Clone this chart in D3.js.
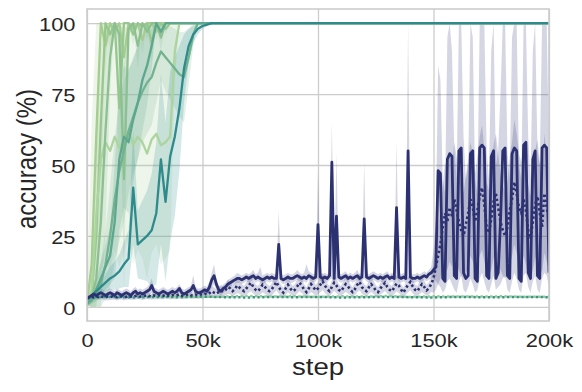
<!DOCTYPE html>
<html><head><meta charset="utf-8">
<script src="https://cdn.jsdelivr.net/npm/d3@7"></script>
<style>body{margin:0;background:#fff}svg{display:block}</style>
</head><body><svg id="chart" width="582" height="392"></svg>
<script>
// ---------- ticks ----------
const xTickValues=[0,50,100,150,200];           // step in thousands
const xTickLabels=["0","50k","100k","150k","200k"];
const yTickValues=[0,25,50,75,100];

// ---------- green (fast-learning) runs, step in thousands ----------
const greenSteps=[0,2,4,6,8,10,12,14,16,18,20,22,24,26,28,30,32,34,36,38,40,42,44,46,48,50,52,54,56,58,60,200];
const g1Mean=[1,15,60,100,92,100,97,100,88,100,98,100,94,100,100,97,100,100,100,100,100,100,100,100,100,100,100,100,100,100,100,100];
const g1Ci  =[0.5,50,40,2,8,0,3,0,10,0,2,0,5,0,0,3,0,0,0,0,0,0,0,0,0,0,0,0,0,0,0,0];
const g2Mean=[1,4,25,65,100,96,100,70,100,100,96,100,99,100,93,100,100,98,100,100,100,100,100,100,100,100,100,100,100,100,100,100];
const g2Ci  =[0.5,8,40,35,2,6,0,30,0,0,4,0,1,0,7,0,0,2,0,0,0,0,0,0,0,0,0,0,0,0,0,0];
const g3Mean=[1,5,32,52,58,55,60,56,59,62,57,60,58,54,59,61,57,58,60,90,100,100,100,100,100,100,100,100,100,100,100,100];
const g3Ci  =[0.5,10,35,40,40,42,40,42,40,38,42,40,41,44,40,39,42,41,40,10,0,0,0,0,0,0,0,0,0,0,0,0];
const g4Mean=[1,3,10,30,62,88,100,96,45,98,100,92,100,97,100,100,95,100,100,100,100,100,100,100,100,100,100,100,100,100,100,100];
const g4Ci  =[0.5,3,15,30,35,12,0,5,40,3,0,8,0,3,0,0,5,0,0,0,0,0,0,0,0,0,0,0,0,0,0,0];
const g5Mean=[1,2,4,8,15,25,38,48,55,62,67,72,76,79,81,86,90,88,86,84,82,81,88,96,100,100,100,100,100,100,100,100];
const g5Ci  =[0.5,2,4,8,12,18,22,25,25,22,20,20,18,18,17,14,10,12,13,14,15,16,10,4,0,0,0,0,0,0,0,0];
const g6Mean=[1,3,6,10,14,18,30,52,60,58,66,72,80,85,92,100,97,100,100,100,100,100,100,100,100,100,100,100,100,100,100,100];
const g6Ci  =[0.5,2,4,6,8,10,20,25,25,25,22,20,18,14,8,0,3,0,0,0,0,0,0,0,0,0,0,0,0,0,0,0];
const g7Mean=[2.5,4,5.5,7,8.5,10,11,12.5,15,17,42,22,23.5,25,27,33,52,37,53,60,70,84,92,96,98,99,99.5,100,100,100,100,100];
const g7Ci  =[0.5,1,1.5,2,3,4,5,6,8,10,20,12,14,16,20,25,30,28,30,28,22,12,6,3,2,1,0.5,0,0,0,0,0];

// ---------- flat dotted runs at the bottom ----------
const dotSteps=[0,10,20,30,40,50,60,70,80,90,100,110,120,130,140,150,160,170,180,190,200];
const lightDot=[3.7,3.5,3.8,3.6,3.7,3.5,3.6,3.8,3.6,3.7,3.5,3.7,3.6,3.8,3.5,3.7,3.6,3.6,3.7,3.5,3.6];
const tealDot =[3.4,3.5,3.3,3.5,3.4,3.6,3.4,3.3,3.5,3.4,3.5,3.3,3.4,3.5,3.4,3.3,3.5,3.4,3.4,3.5,3.4];

// ---------- navy runs, one value per 1k steps (0..200k) ----------
const navySteps=d3.range(0,201);
const navyMean=[
3,3.5,4,4.5,4,4.5,5,4.5,4,4.5,
5,4.5,4,5,4.5,4,4.5,5,4.5,4,
5,5.5,4.5,5,4.5,5,5.5,6,7.5,5.5,
5,4.5,5,5.5,5,4.5,5,5.5,5,5.5,
6.5,5,4.5,5,5.5,6,7.5,5.5,5,5,
5.5,6,5.5,7,9.5,11,8,6,5.5,6.5,
7,8,8.5,9,9.5,10,10,9.5,10,10.5,
10,10.5,11,10,10.5,10,9.5,10,10.5,10,
10.5,10,10,22,10,9.5,10,10.5,10,10,
10.5,11,10.5,10,10.5,10,11,10.5,10,10.5,
29,10.5,10,10.5,10,11,51,10,32,10.5,
10,10.5,11,10,10.5,10,10.5,11,10,10.5,
31,10.5,10,10.5,11,10.5,10,10.5,10,10.5,
11,10,10.5,10,35,10.5,10,10.5,10,55,
10.5,10,10,10.5,10,10.5,11,10.5,11.5,12,
13,14,48,47,10,9,52,54,53,11,
10,55,56,12,10,11,54,55,10,9,
56,57,56,11,10,53,55,10,12,30,
55,56,11,10,54,56,55,10,9,57,
58,12,10,52,55,11,10,56,57,56,
12];
const navyLo=[
2,2.5,3,3,3,3,3.5,3,3,3,
3.5,3,3,3.5,3,3,3,3.5,3,3,
3.5,4,3,3.5,3,3.5,4,4.5,5,4,
3.5,3,3.5,4,3.5,3,3.5,4,3.5,4,
5,3.5,3,3.5,4,4.5,5.5,4,3.5,3.5,
4,4.5,4,5,7,8,6,4.5,4,5,
5.5,6.5,7,7.5,8,8.5,8.5,8,8.5,9,
8.5,9,9.5,8.5,9,8.5,8,8.5,9,8.5,
9,8.5,8.5,10,8.5,8,8.5,9,8.5,8.5,
9,9.5,9,8.5,9,8.5,9.5,9,8.5,9,
10,9,8.5,9,8.5,9.5,10,8.5,10,9,
8.5,9,9.5,8.5,9,8.5,9,9.5,8.5,9,
10,9,8.5,9,9.5,9,8.5,9,8.5,9,
9.5,8.5,9,8.5,10,9,8.5,9,8.5,10,
9,8.5,8.5,9,8.5,9,9.5,9,9.5,10,
10,9,8,7,5,6,9,10,8,6,
5,9,11,6,5,7,10,8,5,6,
10,12,9,6,5,8,11,6,7,8,
10,11,6,5,9,12,10,6,5,11,
12,7,5,9,11,6,5,10,12,11,
7];
const navyHi=[
4.5,5,5.5,6,5.5,6,6.5,6,5.5,6,
6.5,6,5.5,6.5,6,5.5,6,6.5,6,5.5,
6.5,7,6,6.5,6,6.5,7,8,10,7,
6.5,6,6.5,7,6.5,6,6.5,7,6.5,7,
8,6.5,6,6.5,7,7.5,11,7,6.5,6.5,
7,7.5,7,9,12,15,10,7.5,7,8,
8.5,9.5,10,10.5,11,12,11.5,11,11.5,12,
11.5,12,13,11.5,12,14,11,11.5,12,11.5,
12,11.5,11.5,34,11.5,11,11.5,12,11.5,11.5,
12,13,12,11.5,12,15,12.5,12,11.5,12,
48,12,11.5,12,11.5,12.5,65,11.5,54,12,
11.5,12,12.5,11.5,12,11.5,12,13,11.5,12,
51,12,11.5,12,12.5,12,11.5,12,11.5,12,
12.5,11.5,12,11.5,58,12,11.5,12,11.5,100,
12,11.5,11.5,12,11.5,12,12.5,12,13,14,
20,30,85,80,45,40,95,100,90,55,
45,100,100,60,45,50,100,95,45,40,
100,100,100,55,45,90,100,50,55,75,
100,100,55,45,95,100,100,50,45,100,
100,60,45,90,100,55,50,100,100,100,
55];
const navyDotMean=[
3,3.2,3.5,3.3,3.6,3.4,3.8,3.5,3.3,3.6,
3.4,3.7,3.5,3.3,3.8,3.6,3.4,3.5,3.9,3.6,
3.5,3.8,4,3.6,3.5,3.9,4.2,3.8,3.6,4,
3.8,4.1,3.7,3.9,4.3,4,3.8,4.2,3.9,4.1,
4.4,4,3.8,4.2,4.5,4.1,3.9,4.3,4,4.4,
4.2,4.6,4.3,4.8,5.5,5,4.6,5.2,5.8,5.3,
6,7,6.5,5.5,6.2,7.5,6.8,6,5.5,6.5,
7.5,8.5,7,6,5.5,6.5,7.8,7,6,5.5,
6.2,7.5,8.8,7,5.8,5,6.5,7.8,6.5,5.5,
6,7.2,8.5,7.5,6,5.2,6.5,8,7,5.8,
6.5,7.8,9,7.5,6.2,5.5,7,8.5,7.5,6,
5.5,6.8,8,7.2,6,5.2,6.3,7.8,8.8,7,
6,5.5,6.8,8,7,5.8,5.2,6.5,7.5,8.5,
7,6,5.5,6.8,8.2,7.5,6,5,6.5,7.8,
8.8,7.2,6,5.5,6.8,8,7,5.8,6.5,8,
10,14,18,22,28,33,30,35,32,38,
34,30,27,25,29,33,38,35,30,34,
39,42,36,28,26,31,37,40,35,30,
27,25,28,34,38,44,40,35,33,38,
34,27,24,30,36,39,33,28,40,35,
31];
const navyDotCi=[
0.8,1,1.2,1,1.3,1,1.2,1,1.1,1.3,
1,1.2,1,1.1,1.3,1,1.2,1,1.3,1.1,
1,1.3,1.2,1,1.1,1.3,1.4,1.2,1,1.3,
1.2,1.3,1,1.2,1.4,1.1,1.2,1.4,1.2,1.3,
1.4,1.2,1.1,1.3,1.5,1.2,1.1,1.4,1.2,1.5,
1.3,1.5,1.3,1.6,2,1.8,1.5,1.8,2,1.8,
2,2.5,2.2,1.8,2,2.6,2.3,2,1.8,2.2,
2.5,3,2.4,2,1.8,2.2,2.7,2.4,2,1.8,
2.1,2.6,3,2.4,1.9,1.7,2.2,2.7,2.2,1.8,
2,2.5,3,2.6,2,1.7,2.2,2.8,2.4,1.9,
2.2,2.7,3.1,2.6,2.1,1.8,2.4,2.9,2.6,2,
1.8,2.3,2.8,2.5,2,1.7,2.1,2.7,3,2.4,
2,1.8,2.3,2.8,2.4,1.9,1.7,2.2,2.6,2.9,
2.4,2,1.8,2.3,2.8,2.6,2,1.7,2.2,2.7,
3,2.5,2,1.8,2.3,2.8,2.4,1.9,2.2,2.8,
5,8,10,12,15,18,17,19,18,20,
19,17,16,15,17,19,20,19,17,19,
21,22,20,16,15,18,20,21,19,17,
16,15,16,19,20,22,21,19,18,20,
19,16,15,17,19,20,18,16,21,19,
18];

// ---------- colours ----------
const greenColors=["#a5cd90","#97c78e","#acd49e","#8cc091","#72b28f","#5ea78f","#2e8a8b"];
const navyColor="#2c3172";

// ---------- layout ----------
const M={left:87,right:549,top:9,bottom:321};
const svg=d3.select("#chart");
const x=d3.scaleLinear().domain([0,200]).range([M.left,M.right]);
const y=d3.scaleLinear().domain([-5,105]).range([M.bottom,M.top]);
const FONT="'Liberation Sans', Arial, Helvetica, sans-serif";
const TXT="#262626";

svg.append("defs").append("clipPath").attr("id","clip")
  .append("rect").attr("x",M.left).attr("y",M.top).attr("width",M.right-M.left).attr("height",M.bottom-M.top);

// grid via axes
const gx=svg.append("g").attr("transform",`translate(0,${M.bottom})`)
  .call(d3.axisBottom(x).tickValues(xTickValues).tickFormat((d,i)=>xTickLabels[i])
    .tickSize(-(M.bottom-M.top)).tickPadding(12.5));
const gy=svg.append("g").attr("transform",`translate(${M.left},0)`)
  .call(d3.axisLeft(y).tickValues(yTickValues).tickFormat(d3.format("d"))
    .tickSize(-(M.right-M.left)).tickPadding(10));
[gx,gy].forEach(g=>{
  g.select(".domain").remove();
  g.selectAll(".tick line").attr("stroke","#cccccc").attr("stroke-width",1.3);
  g.selectAll(".tick text").attr("fill",TXT).attr("font-family",FONT).attr("font-size",19)
    .attr("transform","scale(1.15,1)");
});
gy.selectAll(".tick text").attr("dy","0.38em");

// ---------- series ----------
const plot=svg.append("g").attr("clip-path","url(#clip)");
const lineGen=(xs,vs)=>d3.line().x((d,i)=>x(xs[i])).y((d,i)=>y(vs[i]))(xs);
const areaGen=(xs,lo,hi)=>d3.area().x((d,i)=>x(xs[i])).y0((d,i)=>y(lo[i])).y1((d,i)=>y(hi[i]))(xs);
const clampLo=(m,c)=>m.map((v,i)=>Math.max(0,v-c[i]));
const clampHi=(m,c)=>m.map((v,i)=>Math.min(100,v+c[i]));

const greens=[
  {m:g1Mean,c:g1Ci},{m:g2Mean,c:g2Ci},{m:g3Mean,c:g3Ci},{m:g4Mean,c:g4Ci},
  {m:g5Mean,c:g5Ci},{m:g6Mean,c:g6Ci},{m:g7Mean,c:g7Ci}
];

// bands
plot.append("path").attr("d",areaGen(navySteps,navyLo,navyHi)).attr("fill",navyColor).attr("fill-opacity",0.2);
plot.append("path").attr("d",areaGen(navySteps,clampLo(navyDotMean,navyDotCi),clampHi(navyDotMean,navyDotCi)))
  .attr("fill",navyColor).attr("fill-opacity",0.2);
greens.forEach((s,k)=>{
  plot.append("path").attr("d",areaGen(greenSteps,clampLo(s.m,s.c),clampHi(s.m,s.c)))
    .attr("fill",greenColors[k]).attr("fill-opacity",0.2);
});

// lines
greens.forEach((s,k)=>{
  plot.append("path").attr("d",lineGen(greenSteps,s.m)).attr("fill","none")
    .attr("stroke",greenColors[k]).attr("stroke-width",2.3).attr("stroke-linejoin","round");
});
plot.append("path").attr("d",lineGen(dotSteps,lightDot)).attr("fill","none")
  .attr("stroke","#93cb8c").attr("stroke-width",2.5).attr("stroke-dasharray","2.4 2.4");
plot.append("path").attr("d",lineGen(dotSteps,tealDot)).attr("fill","none")
  .attr("stroke","#3a958d").attr("stroke-width",2.5).attr("stroke-dasharray","2.4 2.4").attr("stroke-dashoffset",2.4);
plot.append("path").attr("d",lineGen(navySteps,navyDotMean)).attr("fill","none")
  .attr("stroke",navyColor).attr("stroke-width",2.6).attr("stroke-dasharray","2.4 2.6");
plot.append("path").attr("d",lineGen(navySteps,navyMean)).attr("fill","none")
  .attr("stroke",navyColor).attr("stroke-width",2.8).attr("stroke-linejoin","round");

// frame
svg.append("rect").attr("x",M.left).attr("y",M.top).attr("width",M.right-M.left).attr("height",M.bottom-M.top)
  .attr("fill","none").attr("stroke","#cccccc").attr("stroke-width",1.6);

// axis titles
svg.append("text").attr("transform",`translate(${x(100)},375) scale(1.15,1)`).attr("text-anchor","middle")
  .attr("font-family",FONT).attr("font-size",24).attr("fill",TXT).text("step");
svg.append("text").attr("transform",`translate(36,159) scale(1.15,1) rotate(-90)`).attr("text-anchor","middle")
  .attr("font-family",FONT).attr("font-size",24).attr("fill",TXT).text("accuracy (%)");
</script>
</body></html>
